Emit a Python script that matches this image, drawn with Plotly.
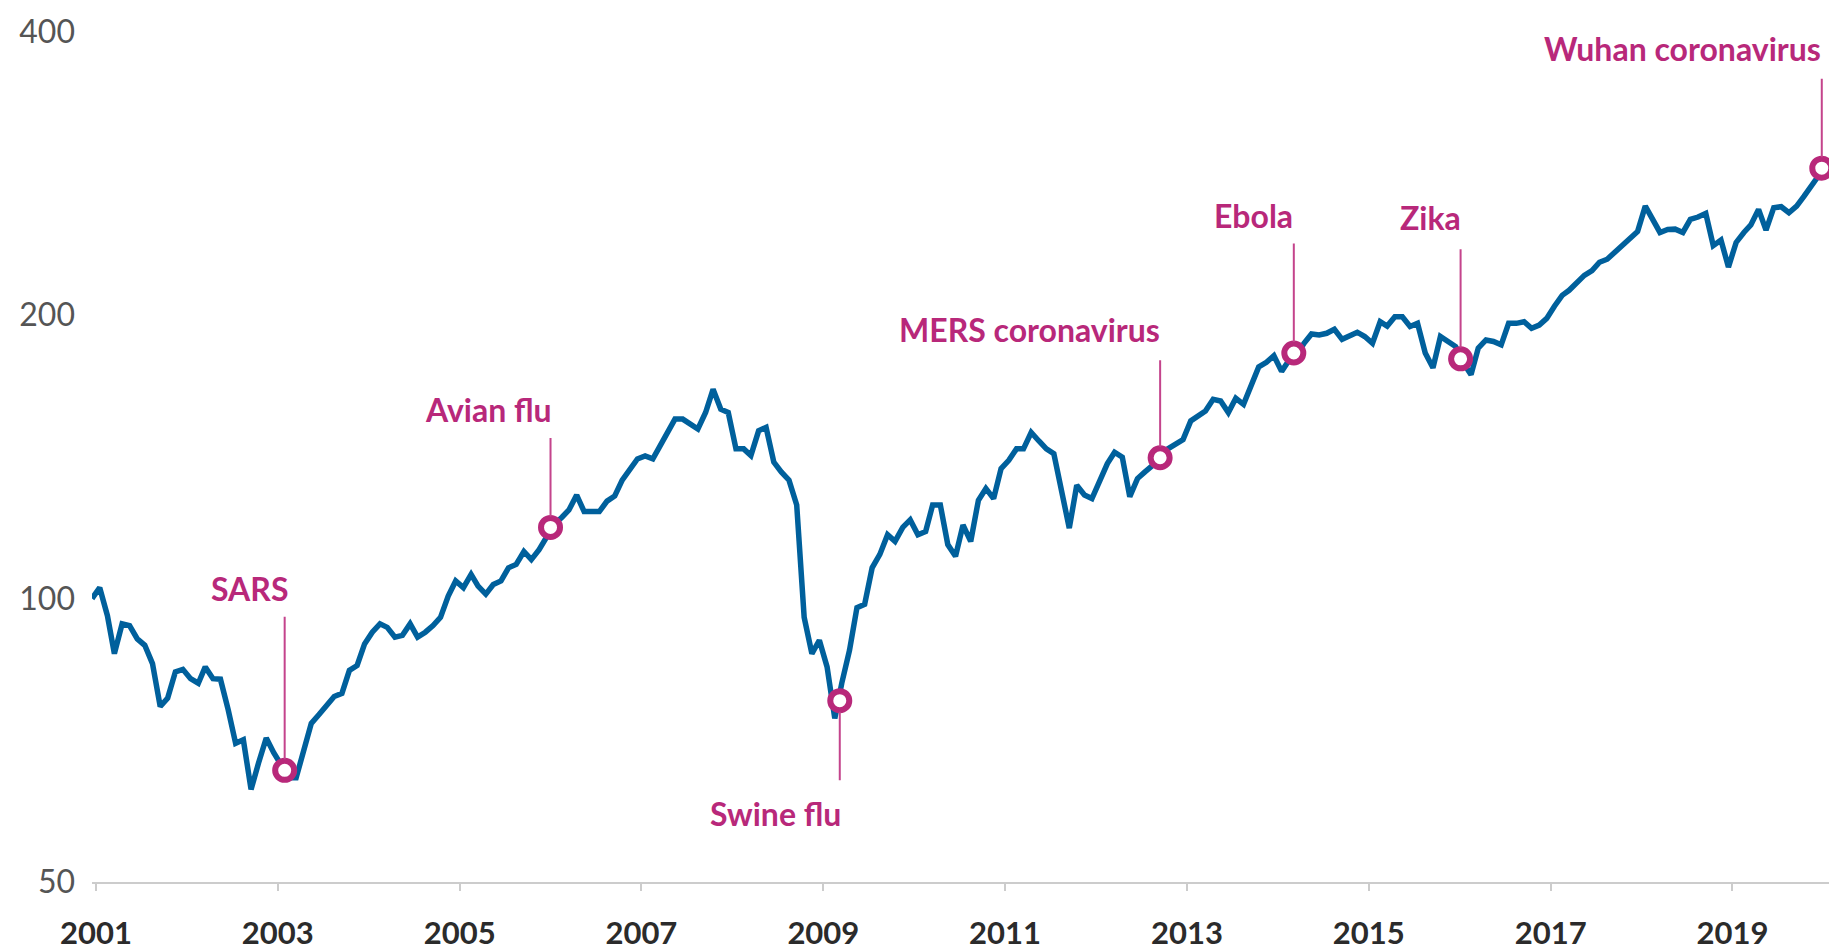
import numpy as np
import pandas as pd
import plotly.graph_objects as go

# ---------------- data ----------------
start_month = "2000-12-01"   # first monthly observation (mid-December 2000)
index_values = [
    100.0, 102.7, 95.9, 87.4, 94.0, 93.6, 90.6, 89.2, 85.3, 76.8, 78.4, 83.6,
    84.1, 82.2, 81.3, 84.6, 82.2, 82.1, 76.2, 70.2, 70.8, 62.7, 66.9, 71.1,
    68.6, 66.6, 64.5, 64.5, 69.1, 73.7, 75.3, 76.8, 78.7, 79.3, 83.9, 84.9,
    89.5, 92.1, 94.0, 93.2, 91.0, 91.4, 94.0, 91.0, 92.1, 93.6, 95.5, 100.6,
    104.4, 102.7, 106.1, 103.1, 101.1, 103.5, 104.4, 107.8, 108.7, 112.2, 110.0, 112.7,
    116.4, 119.9, 122.0, 124.2, 128.8, 123.7, 123.7, 123.7, 126.9, 128.5, 133.6, 137.4,
    140.7, 141.7, 140.7, 145.1, 150.1, 155.1, 155.1, 153.2, 151.4, 157.6, 166.8, 158.9,
    157.6, 144.2, 144.2, 141.9, 150.7, 152.0, 139.6, 136.3, 133.6, 125.7, 95.5, 87.4,
    90.3, 84.6, 74.6, 81.3, 88.1, 97.8, 98.6, 107.8, 111.4, 116.9, 115.0, 119.0,
    121.2, 116.9, 117.8, 125.7, 125.7, 114.1, 110.9, 119.7, 115.0, 127.2, 130.9, 127.7,
    137.4, 140.2, 144.2, 144.2, 150.1, 147.1, 144.2, 142.5, 130.9, 118.8, 131.9, 128.8,
    127.7, 133.0, 139.1, 143.0, 141.3, 128.3, 134.1, 136.3, 138.5, 140.7, 144.2, 146.0,
    147.5, 154.4, 156.3, 158.2, 162.8, 162.1, 157.6, 163.2, 160.8, 168.8, 176.2, 178.2,
    181.1, 174.3, 179.3, 181.1, 186.7, 191.0, 190.5, 191.3, 193.2, 188.5, 189.8, 191.8,
    189.8, 186.7, 196.8, 194.7, 199.2, 199.2, 194.5, 196.0, 182.3, 175.8, 189.8, 187.5,
    185.2, 177.9, 172.9, 184.5, 188.2, 187.5, 186.0, 196.0, 196.0, 196.8, 193.7, 195.2,
    198.4, 204.4, 209.9, 212.5, 216.8, 220.4, 223.0, 227.6, 229.3, 233.2, 238.0, 241.9,
    245.4, 261.1, 251.8, 244.8, 246.6, 246.8, 244.8, 252.8, 254.2, 256.5, 237.0, 240.3,
    224.9, 238.9, 244.8, 249.3, 259.0, 246.2, 260.1, 260.7, 256.9, 261.1, 267.5, 274.1,
    281.9, 287.0,
]

event_names = ["SARS", "Avian flu", "Swine flu", "MERS coronavirus", "Ebola", "Zika",
               "Wuhan coronavirus"]
event_dates = ["2003-01-29", "2006-01-01", "2009-03-08", "2012-09-15", "2014-03-06",
               "2016-01-05", "2019-12-26"]
event_values = [65.7, 119.0, 77.9, 141.1, 182.3, 179.7, 286.5]

x_tick_years = list(range(2001, 2020, 2))
y_tick_values = [50, 100, 200, 400]

# ---------------- styles ----------------
BLUE = "#00609C"
MAGENTA = "#B8287A"
CONNECTOR = "#C4448C"
FONT = "Lato"

# connector length (px, negative = up), label shifts (px) for each event
connector_len = [-155, -91, 81, -99, -111, -111, -91]
label_xshift = [5, 3, 3, 2, 1, 2, 1]
label_yshift = [182, 118, -113, 128, 138, 141, 120]

dates = pd.date_range(start_month, periods=len(index_values), freq="MS") + pd.Timedelta(days=15)

fig = go.Figure()
fig.add_trace(go.Scatter(
    x=dates, y=index_values, mode="lines",
    line=dict(color=BLUE, width=5.5),
    hoverinfo="skip", showlegend=False,
))

fig.add_trace(go.Scatter(
    x=pd.to_datetime(event_dates), y=event_values, mode="markers",
    marker=dict(symbol="circle", size=19, color="white",
                line=dict(color=MAGENTA, width=6)),
    hoverinfo="skip", showlegend=False,
))

annotations = []
for name, d, v, L, xs, ys in zip(event_names, event_dates, event_values,
                                 connector_len, label_xshift, label_yshift):
    # connector line
    annotations.append(dict(
        x=d, y=np.log10(v), xref="x", yref="y", text="",
        showarrow=True, arrowhead=0, arrowwidth=2, arrowcolor=CONNECTOR,
        ax=0, ay=L, standoff=11,
    ))
    # label
    annotations.append(dict(
        x=d, y=np.log10(v), xref="x", yref="y", text=name, showarrow=False,
        xanchor="right", yanchor="middle", xshift=xs, yshift=ys,
        font=dict(family=FONT, size=32, color=MAGENTA, weight="bold"),
    ))

fig.update_layout(
    width=1829, height=951,
    margin=dict(l=92, r=0, t=0, b=61),
    paper_bgcolor="white", plot_bgcolor="white",
    annotations=annotations,
    xaxis=dict(
        type="date",
        range=["2000-12-16", "2020-01-24"],
        tickvals=[f"{y}-01-01" for y in x_tick_years],
        ticktext=[str(y) for y in x_tick_years],
        showgrid=False, zeroline=False,
        showline=True, linecolor="#cccccc", linewidth=2,
        ticks="outside", ticklen=7, tickwidth=2, tickcolor="#cccccc",
        tickfont=dict(family=FONT, size=31, color="#2b2b2b", weight="bold"),
        ticklabelstandoff=16,
    ),
    yaxis=dict(
        type="log",
        range=[np.log10(50), np.log10(432.2)],
        tickvals=y_tick_values,
        ticktext=[str(v) for v in y_tick_values],
        showgrid=False, zeroline=False, showline=False,
        ticks="",
        tickfont=dict(family=FONT, size=32, color="#555555"),
        ticklabelstandoff=16,
    ),
)

# remove the default page margin so the figure sits at the top-left corner
fig.write_html(
    "out.html",
    config={"displayModeBar": False},
    post_script="document.body.style.margin='0';document.body.style.overflow='hidden';",
)
